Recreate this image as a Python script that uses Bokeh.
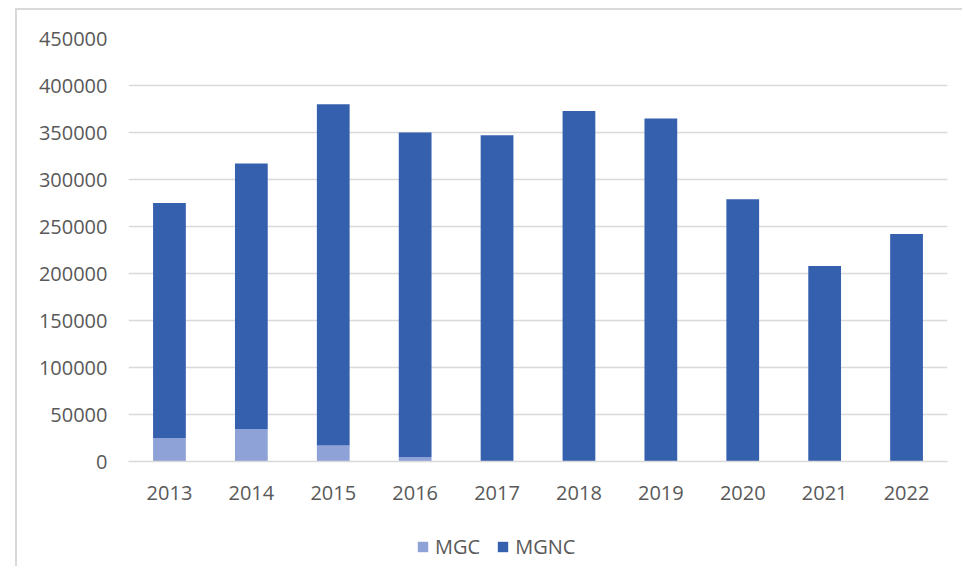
from bokeh.plotting import figure
from bokeh.models import ColumnDataSource, Legend, LegendItem, NumeralTickFormatter
from bokeh.layouts import column
from bokeh.embed import file_html
from bokeh.resources import INLINE

years = ["2013", "2014", "2015", "2016", "2017", "2018", "2019", "2020", "2021", "2022"]
totals = [275000, 317000, 380000, 350000, 347000, 373000, 365000, 279000, 208000, 242000]
mgc = [25000, 34500, 17000, 4700, 0, 0, 0, 0, 0, 0]
mgnc = [t - m for t, m in zip(totals, mgc)]
y_ticks = [0, 50000, 100000, 150000, 200000, 250000, 300000, 350000, 400000, 450000]
series = ["MGC", "MGNC"]
colors = ["#8FA2D8", "#3560AE"]

src = ColumnDataSource(dict(year=years, MGC=mgc, MGNC=mgnc))

FONT = "Open Sans"
GRAY = "#595959"
GRID = "#d9d9d9"

p = figure(x_range=years, y_range=(0, 450000), width=947, height=518,
           output_backend="svg", toolbar_location=None,
           min_border_left=111, min_border_right=17, min_border_top=28, min_border_bottom=67)
p.styles = {"transform": "translate(15px, 8px)",
            "border-left": "2px solid #d9d9d9", "border-top": "2px solid #d9d9d9"}

p.vbar_stack(series, x="year", width=0.4, source=src, color=colors, line_color=None)

p.outline_line_color = None
p.xgrid.grid_line_color = None
p.ygrid.grid_line_color = GRID
p.ygrid.grid_line_width = 1.5
p.yaxis.ticker = y_ticks
p.yaxis.formatter = NumeralTickFormatter(format="0")
for ax in (p.xaxis, p.yaxis):
    ax.major_tick_line_color = None
    ax.minor_tick_line_color = None
    ax.major_label_text_font = FONT
    ax.major_label_text_font_size = "20px"
    ax.major_label_text_color = GRAY
p.yaxis.axis_line_color = None
p.xaxis.axis_line_color = GRID
p.xaxis.axis_line_width = 1.5
p.yaxis.major_label_standoff = 15
p.xaxis.major_label_standoff = 18

# legend strip below the chart (its bars fall outside its y range; only the legend shows)
lf = figure(x_range=years, y_range=(1e9, 2e9), width=947, height=40,
            output_backend="svg", toolbar_location=None,
            x_axis_location=None, y_axis_location=None,
            min_border_left=0, min_border_right=0, min_border_top=0, min_border_bottom=0)
lf.styles = {"transform": "translate(15px, 8px)", "border-left": "2px solid #d9d9d9"}
lf.grid.grid_line_color = None
lf.outline_line_color = None
lr = lf.vbar_stack(series, x="year", width=0.4, source=src, color=colors, line_color=None)
legend = Legend(items=[LegendItem(label=n, renderers=[r]) for n, r in zip(series, lr)],
                orientation="horizontal", location=(288, 6),
                label_text_font=FONT, label_text_font_size="20px", label_text_color=GRAY,
                glyph_width=13, glyph_height=13, spacing=16, padding=0, margin=0,
                label_standoff=6, border_line_color=None, background_fill_alpha=0)
lf.add_layout(legend, "center")

layout = column(p, lf, spacing=0)
open("out.html", "w").write(file_html(layout, INLINE))
